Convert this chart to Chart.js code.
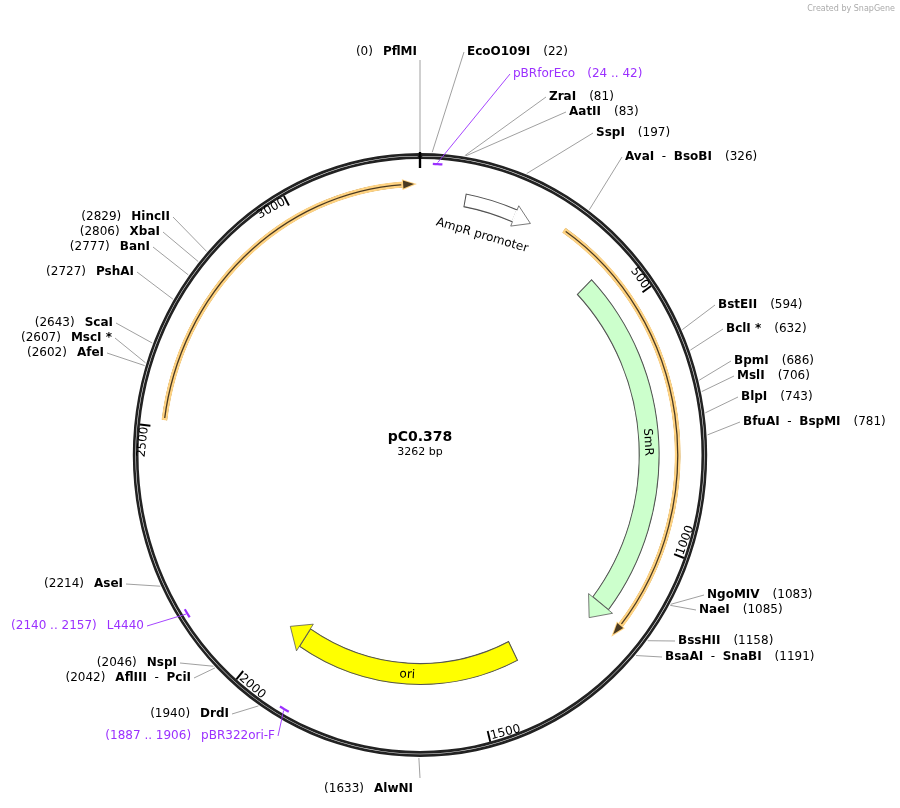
<!DOCTYPE html>
<html><head><meta charset="utf-8">
<script src="https://cdn.jsdelivr.net/npm/chart.js@4.4.0/dist/chart.umd.min.js"></script>
<style>html,body{margin:0;padding:0;background:#fff}</style>
</head><body>
<canvas id="c" width="900" height="808"></canvas>
<script>
const TOTAL = 3262;
const plasmidName = "pC0.378";
// features (arrows)
const featNames = ["AmpR promoter", "SmR", "ori"];
const featStart = [95, 415, 1390];
const featEnd = [205, 1200, 1980];
const featColors = ["#ffffff", "#ccffcc", "#ffff00"];
// orange ORF-like arcs
const orfStart = [308, 2514];
const orfEnd = [1191, 3250];
// primers
const primerNames = ["pBRforEco", "L4440", "pBR322ori-F"];
const primerStart = [24, 2140, 1887];
const primerEnd = [42, 2157, 1906];
// sites
const siteNames = ["PflMI","EcoO109I","ZraI","AatII","SspI","AvaI - BsoBI","BstEII","BclI *","BpmI","MslI","BlpI","BfuAI - BspMI","NgoMIV","NaeI","BssHII","BsaAI - SnaBI","AlwNI","DrdI","AflIII - PciI","NspI","AseI","AfeI","MscI *","ScaI","PshAI","BanI","XbaI","HincII"];
const sitePos = [0,22,81,83,197,326,594,632,686,706,743,781,1083,1085,1158,1191,1633,1940,2042,2046,2214,2602,2607,2643,2727,2777,2806,2829];
// ticks
const tickValues = [500,1000,1500,2000,2500,3000];

// ---- layout (positions only) ----
const siteLabelX = [417,467,549,569,596,625,718,726,734,737,741,743,707,699,678,665,413,229,191,177,123,104,112,113,134,150,160,170];
const siteLabelY = [52,52,97,112,133,157,305,329,361,376,397,422,595,610,641,657,789,714,678,663,584,353,338,323,272,247,232,217];
const primerLabelX = [513,144,275];
const primerLabelY = [74,626,736];
const SX = 0.951; // horizontal squeeze of the map

function seg(s,e){return [s, e-s, TOTAL-e];}
function gap(w){return {data:[1],backgroundColor:['rgba(0,0,0,0)'],borderWidth:0,weight:w};}
const HEAD = {feat:[0,40,45], orf:[22,22]};
const datasets = [
  {data:[TOTAL],backgroundColor:['#ffffff'],borderColor:'#222',borderWidth:2.4,borderAlign:'inner',weight:6},
  gap(3),
  {data:[],weight:3,backgroundColor:[],borderWidth:0},
  gap(16),
  {data:[],weight:6,backgroundColor:[],borderColor:[],borderWidth:[]},
  gap(2),
];
(function(){
  const d=[],bg=[];let cur=0;
  primerStart.map((s,i)=>({s,e:primerEnd[i]})).sort((a,b)=>a.s-b.s).forEach(p=>{d.push(p.s-cur,p.e-p.s);bg.push('rgba(0,0,0,0)','#9b30ff');cur=p.e;});
  d.push(TOTAL-cur);bg.push('rgba(0,0,0,0)');
  datasets[2].data=d;datasets[2].backgroundColor=bg;
})();
(function(){
  const d=[],bg=[],bc=[],bw=[];let cur=0;
  orfStart.forEach((s,i)=>{const e=orfEnd[i]-HEAD.orf[i];d.push(s-cur,e-s);bg.push('rgba(0,0,0,0)','#4a3a22');bc.push('rgba(0,0,0,0)','#ffd382');bw.push(0,2);cur=e;});
  d.push(TOTAL-cur);bg.push('rgba(0,0,0,0)');bc.push('rgba(0,0,0,0)');bw.push(0);
  Object.assign(datasets[4],{data:d,backgroundColor:bg,borderColor:bc,borderWidth:bw});
})();
const featWeights=[14,22,22];
featNames.forEach((n,i)=>{
  const e=featEnd[i]-HEAD.feat[i];
  datasets.push({data:seg(featStart[i],e),backgroundColor:['rgba(0,0,0,0)',featColors[i],'rgba(0,0,0,0)'],
    borderColor:['rgba(0,0,0,0)','#555','rgba(0,0,0,0)'],borderWidth:[0,0.8,0],weight:featWeights[i]});
});

const FONT='"DejaVu Sans", Verdana, sans-serif';
const mapPlugin={id:'map',
beforeDatasetsDraw(chart){
  const bb=chart.getDatasetMeta(0).data[0];const ctx=chart.ctx;
  ctx.save();ctx.translate(bb.x,bb.y);ctx.scale(SX,1);ctx.translate(-bb.x,-bb.y);
},
afterDatasetsDraw(chart){
  const ctx=chart.ctx;
  const bb=chart.getDatasetMeta(0).data[0];
  const cx=bb.x, cy=bb.y, R=bb.outerRadius;
  const ang=p=>bb.startAngle+(p/TOTAL)*(bb.endAngle-bb.startAngle);
  const pt=(a,r)=>[cx+r*Math.cos(a),cy+r*Math.sin(a)];
  function head(el,extraBp,fill,stroke,ext,lw){
    const a0=el.endAngle,a1=ang(extraBp)-ang(0)+a0;
    const rm=(el.innerRadius+el.outerRadius)/2;
    const p1=pt(a0,el.innerRadius-ext),p2=pt(a0,el.outerRadius+ext),tip=pt(a1,rm);
    ctx.beginPath();ctx.moveTo(...p1);ctx.lineTo(...tip);ctx.lineTo(...p2);ctx.closePath();
    ctx.strokeStyle=stroke;ctx.lineWidth=lw||0.8;ctx.stroke();ctx.fillStyle=fill;ctx.fill();
  }
  featNames.forEach((n,i)=>{
    const el=chart.getDatasetMeta(6+i).data[1];
    if(HEAD.feat[i]>0){ctx.save();ctx.fillStyle=featColors[i];ctx.strokeStyle='#555';ctx.lineWidth=0.8;
      const a0=el.endAngle,a1=ang(HEAD.feat[i])-ang(0)+a0,rm=(el.innerRadius+el.outerRadius)/2;
      const p1=pt(a0,el.innerRadius-5),p2=pt(a0,el.outerRadius+5),tip=pt(a1,rm);
      ctx.beginPath();ctx.moveTo(...p1);ctx.lineTo(...tip);ctx.lineTo(...p2);ctx.closePath();ctx.fill();ctx.stroke();ctx.restore();}
    else {
      const a0=el.endAngle, a1=a0+0.07, rm=(el.innerRadius+el.outerRadius)/2;
      ctx.fillStyle='#fff';ctx.strokeStyle='#555';ctx.lineWidth=0.8;
      const p1=pt(a0,el.innerRadius-4),p2=pt(a0,el.outerRadius+4),tip=pt(a1,rm);
      ctx.beginPath();ctx.moveTo(...p1);ctx.lineTo(...tip);ctx.lineTo(...p2);ctx.closePath();ctx.fill();ctx.stroke();
      ctx.strokeStyle='#fff';ctx.lineWidth=2;ctx.beginPath();ctx.moveTo(...pt(a0,el.innerRadius+1));ctx.lineTo(...pt(a0,el.outerRadius-1));ctx.stroke();
    }
  });
  const orfMeta=chart.getDatasetMeta(4);
  orfStart.forEach((s,i)=>head(orfMeta.data[2*i+1],HEAD.orf[i],'#4a3a22','#ffd382',1,2));
  ctx.strokeStyle='#000';
  tickValues.forEach(v=>{const a=ang(v);ctx.lineWidth=2;ctx.beginPath();ctx.moveTo(...pt(a,R-6));ctx.lineTo(...pt(a,R-17));ctx.stroke();});
  ctx.lineWidth=2.5;ctx.beginPath();ctx.moveTo(...pt(ang(0),R+1));ctx.lineTo(...pt(ang(0),R-15));ctx.stroke();
  ctx.restore();

  const q=(a,r)=>[cx+SX*r*Math.cos(a),cy+r*Math.sin(a)];
  featNames.forEach((n,i)=>{
    const el=chart.getDatasetMeta(6+i).data[1];
    const mid=(el.startAngle+el.endAngle)/2;
    ctx.save();ctx.font='12px '+FONT;ctx.fillStyle='#000';ctx.textAlign='center';ctx.textBaseline='middle';
    if(i===0){const [x,y]=q(mid,229);ctx.translate(x,y);ctx.rotate(mid+Math.PI/2);ctx.fillText(n,0,0);}
    else{const rm=(el.innerRadius+el.outerRadius)/2;const [x,y]=q(mid,rm);ctx.translate(x,y);
      let r=mid+Math.PI/2; if(Math.cos(r)<0) r+=Math.PI; ctx.rotate(r);ctx.fillText(n,0,1);}
    ctx.restore();
  });
  ctx.save();ctx.fillStyle='#000';
  tickValues.forEach(v=>{
    const a=ang(v);
    ctx.save();const [x,y]=q(a-0.006,R-11);ctx.translate(x,y);
    let r=a+Math.PI/2;let align='right';if(Math.cos(r)<0){r+=Math.PI;align='left';}
    ctx.rotate(r);ctx.font='12px '+FONT;ctx.textAlign=align;ctx.textBaseline='middle';ctx.fillText(String(v),0,0);ctx.restore();
  });
  ctx.restore();
  ctx.save();ctx.textBaseline='middle';
  const bold='bold 12px '+FONT,norm='12px '+FONT;
  // draw a name where " - " parts are bold and the dash is normal; returns width
  function nameWidth(n){const parts=n.split(' - ');let w=0;ctx.font=bold;parts.forEach(p=>w+=ctx.measureText(p).width);ctx.font=norm;w+=(parts.length-1)*ctx.measureText('  -  ').width;return w;}
  function drawName(n,x,y){const parts=n.split(' - ');let xx=x;ctx.textAlign='left';
    parts.forEach((p,k)=>{if(k>0){ctx.font=norm;ctx.fillText('  - ',xx,y);xx+=ctx.measureText('  -  ').width;}
      ctx.font=bold;ctx.fillText(p,xx,y);xx+=ctx.measureText(p).width;});}
  siteNames.forEach((n,i)=>{
    const a=ang(sitePos[i]);const [x0,y0]=q(a,R+1);
    const lx=siteLabelX[i],ly=siteLabelY[i];const ps='('+sitePos[i]+')';
    const wn=nameWidth(n);
    const special = sitePos[i]===0 || sitePos[i]===1633;
    const right = !special && Math.cos(a)>0;
    let ex,ey;
    if(sitePos[i]===0){ex=420;ey=ly+8;}
    else if(sitePos[i]===1633){ex=420;ey=ly-11;}
    else if(right){ex=lx-3;ey=ly;} else {ex=lx+3;ey=ly;}
    ctx.strokeStyle='#888';ctx.lineWidth=0.8;ctx.beginPath();ctx.moveTo(x0,y0);ctx.lineTo(ex,ey);ctx.stroke();
    ctx.fillStyle='#000';
    if(right){ drawName(n,lx,ly);ctx.font=norm;ctx.textAlign='left';ctx.fillText(ps,lx+wn+13,ly);}
    else { drawName(n,lx-wn,ly);ctx.font=norm;ctx.textAlign='right';ctx.fillText(ps,lx-wn-10,ly);}
  });
  primerNames.forEach((n,i)=>{
    const a=ang((primerStart[i]+primerEnd[i])/2);const [x0,y0]=q(a,R-9);
    const lx=primerLabelX[i],ly=primerLabelY[i];const ps='('+primerStart[i]+' .. '+primerEnd[i]+')';
    ctx.font=norm;ctx.fillStyle='#9b30ff';ctx.strokeStyle='#9b30ff';ctx.lineWidth=0.9;
    const right=Math.cos(a)>0;const wn=ctx.measureText(n).width;
    ctx.beginPath();ctx.moveTo(x0,y0);ctx.lineTo(right?lx-3:lx+3,ly);ctx.stroke();
    if(right){ctx.textAlign='left';ctx.fillText(n,lx,ly);ctx.fillText(ps,lx+wn+12,ly);}
    else{ctx.textAlign='right';ctx.fillText(n,lx,ly);ctx.fillText(ps,lx-wn-10,ly);}
  });
  ctx.fillStyle='#000';ctx.textAlign='center';
  ctx.font='bold 14px '+FONT;ctx.fillText(plasmidName,cx,cy-18);
  ctx.font='11px '+FONT;ctx.fillText(TOTAL+' bp',cx,cy-3);
  ctx.font='8px '+FONT;ctx.fillStyle='#aaa';ctx.textAlign='right';ctx.fillText('Created by SnapGene',895,9);
  ctx.restore();
}};

new Chart(document.getElementById('c'),{
  type:'doughnut',
  data:{labels:[],datasets},
  options:{responsive:false,animation:false,cutout:208,
    layout:{padding:{left:118,top:153,right:178,bottom:51}},
    plugins:{legend:{display:false},tooltip:{enabled:false}},
    elements:{arc:{borderAlign:'inner'}}},
  plugins:[mapPlugin]
});
</script>
</body></html>
